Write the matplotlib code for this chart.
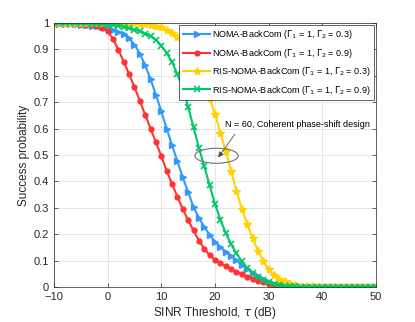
import matplotlib
matplotlib.use("Agg")
import matplotlib.pyplot as plt
from matplotlib.patches import Ellipse

plt.rcParams['font.family'] = ['Liberation Sans', 'DejaVu Sans']
plt.rcParams['mathtext.fontset'] = 'dejavusans'

# SINR threshold (dB)
tau = list(range(-10, 51))

# NOMA-BackCom, Gamma2 = 0.3
noma_03 = [0.998, 0.997, 0.997, 0.996, 0.995, 0.994, 0.992, 0.990, 0.987, 0.984,
           0.980, 0.975, 0.967, 0.957, 0.942, 0.918, 0.884, 0.840, 0.787, 0.728,
           0.665, 0.600, 0.537, 0.476, 0.415, 0.360, 0.303, 0.262, 0.228, 0.198,
           0.172, 0.151, 0.133, 0.117, 0.101, 0.085, 0.069, 0.054, 0.041, 0.030,
           0.020, 0.013, 0.008, 0.005, 0.003, 0.002, 0.001, 0.001, 0.0, 0.0,
           0.0, 0.0, 0.0, 0.0, 0.0, 0.0, 0.0, 0.0, 0.0, 0.0, 0.0]

# NOMA-BackCom, Gamma2 = 0.9
noma_09 = [0.999, 0.999, 0.998, 0.998, 0.997, 0.996, 0.994, 0.992, 0.988, 0.981,
           0.968, 0.940, 0.899, 0.853, 0.806, 0.757, 0.705, 0.652, 0.600, 0.548,
           0.496, 0.440, 0.390, 0.342, 0.295, 0.253, 0.214, 0.176, 0.145, 0.121,
           0.103, 0.090, 0.078, 0.068, 0.058, 0.048, 0.039, 0.031, 0.024, 0.018,
           0.013, 0.009, 0.006, 0.004, 0.003, 0.002, 0.001, 0.001, 0.0, 0.0,
           0.0, 0.0, 0.0, 0.0, 0.0, 0.0, 0.0, 0.0, 0.0, 0.0, 0.0]

# RIS-NOMA-BackCom, Gamma2 = 0.3
ris_03 = [1.0, 1.0, 1.0, 1.0, 1.0, 1.0, 1.0, 0.999, 0.999, 0.999,
          0.999, 0.999, 0.999, 0.998, 0.998, 0.998, 0.997, 0.996, 0.994, 0.990,
          0.983, 0.975, 0.963, 0.945, 0.920, 0.890, 0.855, 0.813, 0.768, 0.715,
          0.655, 0.585, 0.515, 0.440, 0.365, 0.295, 0.240, 0.185, 0.138, 0.098,
          0.068, 0.047, 0.032, 0.021, 0.013, 0.008, 0.005, 0.003, 0.002, 0.001,
          0.001, 0.0, 0.0, 0.0, 0.0, 0.0, 0.0, 0.0, 0.0, 0.0, 0.0]

# RIS-NOMA-BackCom, Gamma2 = 0.9
ris_09 = [1.0, 1.0, 0.999, 0.999, 0.999, 0.998, 0.998, 0.997, 0.996, 0.995,
          0.994, 0.992, 0.989, 0.985, 0.980, 0.975, 0.968, 0.960, 0.950, 0.936,
          0.914, 0.886, 0.852, 0.806, 0.748, 0.682, 0.605, 0.528, 0.458, 0.385,
          0.315, 0.255, 0.205, 0.162, 0.127, 0.097, 0.073, 0.054, 0.039, 0.027,
          0.018, 0.011, 0.007, 0.004, 0.003, 0.002, 0.001, 0.001, 0.0, 0.0,
          0.0, 0.0, 0.0, 0.0, 0.0, 0.0, 0.0, 0.0, 0.0, 0.0, 0.0]

labels = [r"NOMA-BackCom ($\Gamma_1$ = 1, $\Gamma_2$ = 0.3)",
          r"NOMA-BackCom ($\Gamma_1$ = 1, $\Gamma_2$ = 0.9)",
          r"RIS-NOMA-BackCom ($\Gamma_1$ = 1, $\Gamma_2$ = 0.3)",
          r"RIS-NOMA-BackCom ($\Gamma_1$ = 1, $\Gamma_2$ = 0.9)"]

fig = plt.figure(figsize=(4.15, 3.22), dpi=100)
ax = fig.add_axes([0.130, 0.1087, 0.776, 0.820])

ax.plot(tau, noma_03, color="#3399ff", lw=1.5, marker=">", ms=4, label=labels[0])
ax.plot(tau, noma_09, color="#ff3333", lw=1.5, marker="o", ms=3.5, label=labels[1])
ax.plot(tau, ris_03, color="#ffd200", lw=1.5, marker="*", ms=6, label=labels[2])
ax.plot(tau, ris_09, color="#00c864", lw=1.5, marker="x", ms=4, mew=1.2, label=labels[3])

# annotation
ax.add_patch(Ellipse((20.3, 0.497), 8.07, 0.057, fill=False, ec="#707070", lw=0.8, zorder=5))
ax.annotate("", xy=(20.3, 0.482), xytext=(24.0, 0.587),
            arrowprops=dict(arrowstyle="-|>", color="#505050", lw=0.6, mutation_scale=8))
ax.text(21.9, 0.617, "N = 60, Coherent phase-shift design", fontsize=6.5, va="center")

ax.set_xlim(-10, 50)
ax.set_ylim(0, 1)
ax.set_xticks(range(-10, 51, 10))
ax.set_yticks([i / 10 for i in range(11)])
ax.set_yticklabels(["0", "0.1", "0.2", "0.3", "0.4", "0.5", "0.6", "0.7", "0.8", "0.9", "1"])
ax.tick_params(direction="in", top=True, right=True, labelsize=8, colors="#262626",
               length=3, width=0.5)
for s in ax.spines.values():
    s.set_color("#262626")
    s.set_linewidth(0.5)
ax.grid(True, color="#e3e3e3", lw=0.6)
ax.set_axisbelow(True)

ax.set_xlabel(r"SINR Threshold, $\tau$ (dB)", fontsize=8.5, color="#262626", labelpad=2)
ax.set_ylabel("Success probability", fontsize=8.5, color="#262626", labelpad=3)

leg = ax.legend(loc="upper right", fontsize=6.5, fancybox=False, framealpha=1,
                edgecolor="#262626", handlelength=3, borderaxespad=0.2,
                labelspacing=0.6, borderpad=0.4, handletextpad=0.2)
leg.get_frame().set_linewidth(0.5)

fig.savefig("out.png", dpi=100)
